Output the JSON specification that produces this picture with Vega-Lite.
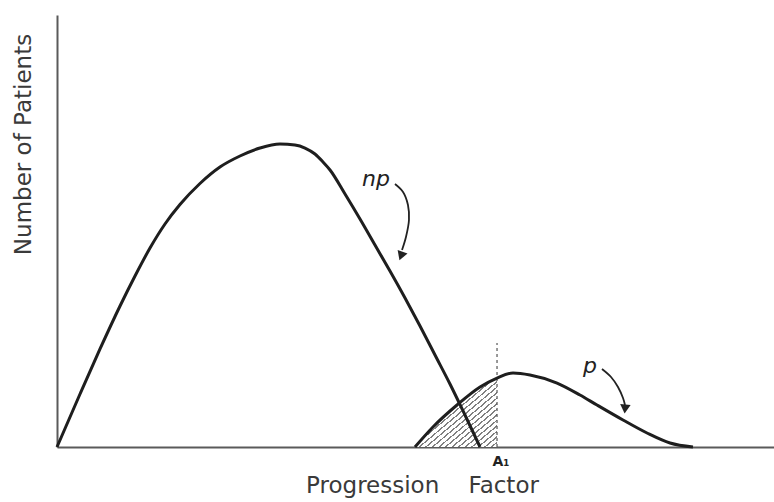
{
  "$schema": "https://vega.github.io/schema/vega-lite/v6.json",
  "width": 717,
  "height": 432,
  "autosize": {"type": "none"},
  "padding": {"left": 57, "top": 15, "right": 0, "bottom": 55},
  "background": "white",
  "config": {"view": {"stroke": null}, "font": "DejaVu Sans"},
  "datasets": {
    "curves": [
      {"curve": "np", "x": 0, "y": 0},
      {"curve": "np", "x": 3.21, "y": 12.27},
      {"curve": "np", "x": 6.00, "y": 22.69},
      {"curve": "np", "x": 8.79, "y": 32.64},
      {"curve": "np", "x": 10.88, "y": 39.58},
      {"curve": "np", "x": 12.97, "y": 46.06},
      {"curve": "np", "x": 15.06, "y": 51.62},
      {"curve": "np", "x": 17.15, "y": 56.13},
      {"curve": "np", "x": 19.94, "y": 61.00},
      {"curve": "np", "x": 22.73, "y": 64.81},
      {"curve": "np", "x": 25.52, "y": 67.36},
      {"curve": "np", "x": 28.31, "y": 69.21},
      {"curve": "np", "x": 31.10, "y": 70.14},
      {"curve": "np", "x": 33.19, "y": 69.91},
      {"curve": "np", "x": 34.59, "y": 69.21},
      {"curve": "np", "x": 35.98, "y": 67.82},
      {"curve": "np", "x": 37.10, "y": 65.97},
      {"curve": "np", "x": 38.08, "y": 64.12},
      {"curve": "np", "x": 40.17, "y": 58.56},
      {"curve": "np", "x": 42.26, "y": 52.78},
      {"curve": "np", "x": 44.35, "y": 46.76},
      {"curve": "np", "x": 46.44, "y": 40.74},
      {"curve": "np", "x": 48.54, "y": 34.49},
      {"curve": "np", "x": 50.63, "y": 28.01},
      {"curve": "np", "x": 52.72, "y": 21.30},
      {"curve": "np", "x": 54.81, "y": 14.58},
      {"curve": "np", "x": 56.90, "y": 7.41},
      {"curve": "np", "x": 59.00, "y": 0},
      {"curve": "p", "x": 49.93, "y": 0},
      {"curve": "p", "x": 52.44, "y": 4.63},
      {"curve": "p", "x": 55.79, "y": 9.72},
      {"curve": "p", "x": 59.00, "y": 13.89},
      {"curve": "p", "x": 61.37, "y": 15.97},
      {"curve": "p", "x": 63.60, "y": 17.13},
      {"curve": "p", "x": 65.97, "y": 16.67},
      {"curve": "p", "x": 69.74, "y": 14.81},
      {"curve": "p", "x": 72.94, "y": 12.04},
      {"curve": "p", "x": 75.31, "y": 9.72},
      {"curve": "p", "x": 78.94, "y": 6.25},
      {"curve": "p", "x": 82.29, "y": 3.24},
      {"curve": "p", "x": 85.50, "y": 0.93},
      {"curve": "p", "x": 88.70, "y": 0}
    ],
    "hatch": [
      {"x": 49.93, "y": 0},
      {"x": 52.44, "y": 4.63},
      {"x": 55.79, "y": 9.72},
      {"x": 59.00, "y": 13.89},
      {"x": 61.37, "y": 15.97}
    ],
    "cutoff": [
      {"x": 61.37, "y": 0, "y2": 24.07}
    ],
    "arrows": [
      {"arrow": "np", "i": 0, "x": 47.14, "y": 60.88},
      {"arrow": "np", "i": 1, "x": 48.26, "y": 59.03},
      {"arrow": "np", "i": 2, "x": 48.95, "y": 56.02},
      {"arrow": "np", "i": 3, "x": 49.09, "y": 52.55},
      {"arrow": "np", "i": 4, "x": 48.67, "y": 48.61},
      {"arrow": "np", "i": 5, "x": 48.12, "y": 45.60},
      {"arrow": "p", "i": 0, "x": 76.01, "y": 18.06},
      {"arrow": "p", "i": 1, "x": 77.27, "y": 16.20},
      {"arrow": "p", "i": 2, "x": 78.24, "y": 13.89},
      {"arrow": "p", "i": 3, "x": 78.94, "y": 11.34},
      {"arrow": "p", "i": 4, "x": 79.22, "y": 9.72}
    ],
    "heads": [
      {"arrow": "np", "x": 47.98, "y": 44.21},
      {"arrow": "p", "x": 79.22, "y": 8.80}
    ],
    "labels": [
      {"label": "np", "x": 44.49, "y": 60.42},
      {"label": "p", "x": 74.34, "y": 17.13},
      {"label": "A₁", "x": 61.92, "y": -4.4}
    ]
  },
  "encoding": {
    "x": {
      "field": "x", "type": "quantitative",
      "scale": {"domain": [0, 100], "nice": false, "zero": false},
      "axis": {
        "title": "Progression\u00a0\u00a0\u00a0\u00a0Factor",
        "ticks": false, "labels": false, "grid": false,
        "domainColor": "#5a5a5a", "domainWidth": 2,
        "titleFont": "DejaVu Sans", "titleFontSize": 23, "titleFontWeight": "normal",
        "titleColor": "#3a3a3a", "titleX": 365, "titleY": 45,
        "titleBaseline": "alphabetic", "titleAlign": "center"
      }
    },
    "y": {
      "field": "y", "type": "quantitative",
      "scale": {"domain": [0, 100], "nice": false},
      "axis": {
        "title": "Number of Patients",
        "ticks": false, "labels": false, "grid": false,
        "domainColor": "#5a5a5a", "domainWidth": 2,
        "titleFont": "DejaVu Sans", "titleFontSize": 23, "titleFontWeight": "normal",
        "titleColor": "#3a3a3a", "titleX": -34, "titleY": 129, "titleAngle": 270,
        "titleAlign": "center", "titleBaseline": "middle"
      }
    }
  },
  "layer": [
    {
      "data": {"name": "hatch"},
      "mark": {
        "type": "area", "interpolate": "monotone",
        "fill": {
          "gradient": "linear", "x1": 0, "y1": 0, "x2": 1, "y2": 1,
          "stops": [
            {"offset": 0.0, "color": "#808080"}, {"offset": 0.012, "color": "#808080"}, {"offset": 0.012, "color": "#ffffff"}, {"offset": 0.04, "color": "#ffffff"},
            {"offset": 0.04, "color": "#808080"}, {"offset": 0.052, "color": "#808080"}, {"offset": 0.052, "color": "#ffffff"}, {"offset": 0.08, "color": "#ffffff"},
            {"offset": 0.08, "color": "#808080"}, {"offset": 0.092, "color": "#808080"}, {"offset": 0.092, "color": "#ffffff"}, {"offset": 0.12, "color": "#ffffff"},
            {"offset": 0.12, "color": "#808080"}, {"offset": 0.132, "color": "#808080"}, {"offset": 0.132, "color": "#ffffff"}, {"offset": 0.16, "color": "#ffffff"},
            {"offset": 0.16, "color": "#808080"}, {"offset": 0.172, "color": "#808080"}, {"offset": 0.172, "color": "#ffffff"}, {"offset": 0.2, "color": "#ffffff"},
            {"offset": 0.2, "color": "#808080"}, {"offset": 0.212, "color": "#808080"}, {"offset": 0.212, "color": "#ffffff"}, {"offset": 0.24, "color": "#ffffff"},
            {"offset": 0.24, "color": "#808080"}, {"offset": 0.252, "color": "#808080"}, {"offset": 0.252, "color": "#ffffff"}, {"offset": 0.28, "color": "#ffffff"},
            {"offset": 0.28, "color": "#808080"}, {"offset": 0.292, "color": "#808080"}, {"offset": 0.292, "color": "#ffffff"}, {"offset": 0.32, "color": "#ffffff"},
            {"offset": 0.32, "color": "#808080"}, {"offset": 0.332, "color": "#808080"}, {"offset": 0.332, "color": "#ffffff"}, {"offset": 0.36, "color": "#ffffff"},
            {"offset": 0.36, "color": "#808080"}, {"offset": 0.372, "color": "#808080"}, {"offset": 0.372, "color": "#ffffff"}, {"offset": 0.4, "color": "#ffffff"},
            {"offset": 0.4, "color": "#808080"}, {"offset": 0.412, "color": "#808080"}, {"offset": 0.412, "color": "#ffffff"}, {"offset": 0.44, "color": "#ffffff"},
            {"offset": 0.44, "color": "#808080"}, {"offset": 0.452, "color": "#808080"}, {"offset": 0.452, "color": "#ffffff"}, {"offset": 0.48, "color": "#ffffff"},
            {"offset": 0.48, "color": "#808080"}, {"offset": 0.492, "color": "#808080"}, {"offset": 0.492, "color": "#ffffff"}, {"offset": 0.52, "color": "#ffffff"},
            {"offset": 0.52, "color": "#808080"}, {"offset": 0.532, "color": "#808080"}, {"offset": 0.532, "color": "#ffffff"}, {"offset": 0.56, "color": "#ffffff"},
            {"offset": 0.56, "color": "#808080"}, {"offset": 0.572, "color": "#808080"}, {"offset": 0.572, "color": "#ffffff"}, {"offset": 0.6, "color": "#ffffff"},
            {"offset": 0.6, "color": "#808080"}, {"offset": 0.612, "color": "#808080"}, {"offset": 0.612, "color": "#ffffff"}, {"offset": 0.64, "color": "#ffffff"},
            {"offset": 0.64, "color": "#808080"}, {"offset": 0.652, "color": "#808080"}, {"offset": 0.652, "color": "#ffffff"}, {"offset": 0.68, "color": "#ffffff"},
            {"offset": 0.68, "color": "#808080"}, {"offset": 0.692, "color": "#808080"}, {"offset": 0.692, "color": "#ffffff"}, {"offset": 0.72, "color": "#ffffff"},
            {"offset": 0.72, "color": "#808080"}, {"offset": 0.732, "color": "#808080"}, {"offset": 0.732, "color": "#ffffff"}, {"offset": 0.76, "color": "#ffffff"},
            {"offset": 0.76, "color": "#808080"}, {"offset": 0.772, "color": "#808080"}, {"offset": 0.772, "color": "#ffffff"}, {"offset": 0.8, "color": "#ffffff"},
            {"offset": 0.8, "color": "#808080"}, {"offset": 0.812, "color": "#808080"}, {"offset": 0.812, "color": "#ffffff"}, {"offset": 0.84, "color": "#ffffff"},
            {"offset": 0.84, "color": "#808080"}, {"offset": 0.852, "color": "#808080"}, {"offset": 0.852, "color": "#ffffff"}, {"offset": 0.88, "color": "#ffffff"},
            {"offset": 0.88, "color": "#808080"}, {"offset": 0.892, "color": "#808080"}, {"offset": 0.892, "color": "#ffffff"}, {"offset": 0.92, "color": "#ffffff"},
            {"offset": 0.92, "color": "#808080"}, {"offset": 0.932, "color": "#808080"}, {"offset": 0.932, "color": "#ffffff"}, {"offset": 0.96, "color": "#ffffff"},
            {"offset": 0.96, "color": "#808080"}, {"offset": 0.972, "color": "#808080"}, {"offset": 0.972, "color": "#ffffff"}, {"offset": 1.0, "color": "#ffffff"}
          ]
        }
      }
    },
    {
      "data": {"name": "cutoff"},
      "mark": {"type": "rule", "stroke": "#555555", "strokeWidth": 1.2, "strokeDash": [3, 3]},
      "encoding": {"y2": {"field": "y2"}}
    },
    {
      "data": {"name": "curves"},
      "mark": {"type": "line", "interpolate": "monotone", "stroke": "#1e1e1e", "strokeWidth": 3},
      "encoding": {"detail": {"field": "curve"}}
    },
    {
      "data": {"name": "arrows"},
      "mark": {"type": "line", "interpolate": "catmull-rom", "stroke": "#222222", "strokeWidth": 1.8},
      "encoding": {"detail": {"field": "arrow"}, "order": {"field": "i", "type": "quantitative"}}
    },
    {
      "data": {"name": "heads"},
      "transform": [{"filter": "datum.arrow == 'np'"}],
      "mark": {"type": "point", "shape": "triangle-down", "filled": true, "size": 110, "angle": 20, "color": "#222222", "opacity": 1}
    },
    {
      "data": {"name": "heads"},
      "transform": [{"filter": "datum.arrow == 'p'"}],
      "mark": {"type": "point", "shape": "triangle-down", "filled": true, "size": 110, "angle": 5, "color": "#222222", "opacity": 1}
    },
    {
      "data": {"name": "labels"},
      "transform": [{"filter": "datum.label != 'A₁'"}],
      "mark": {"type": "text", "font": "DejaVu Sans", "fontSize": 22, "fontStyle": "italic", "color": "#222222", "align": "center", "baseline": "alphabetic"},
      "encoding": {"text": {"field": "label"}}
    },
    {
      "data": {"name": "labels"},
      "transform": [{"filter": "datum.label == 'A₁'"}],
      "mark": {"type": "text", "font": "DejaVu Sans", "fontSize": 14, "fontWeight": "bold", "color": "#222222", "align": "center", "baseline": "alphabetic"},
      "encoding": {"text": {"field": "label"}}
    }
  ]
}
